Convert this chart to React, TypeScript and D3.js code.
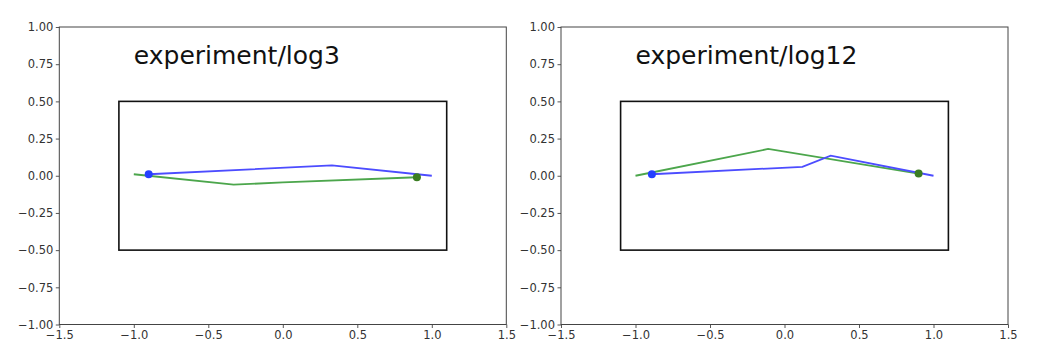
import React, { useEffect, useRef } from "react";
import * as d3 from "d3";

// panel titles
const titles = ["experiment/log3", "experiment/log12"];

// blue track (start marker at first point)
const blueX3 = [-0.9, 0.33, 1.0];
const blueY3 = [0.01, 0.07, 0.0];
const blueX12 = [-0.89, 0.12, 0.31, 1.0];
const blueY12 = [0.01, 0.06, 0.135, 0.0];

// green track (end marker at last point)
const greenX3 = [-1.0, -0.33, 0.0, 0.9];
const greenY3 = [0.01, -0.06, -0.045, -0.01];
const greenX12 = [-1.0, -0.11, 0.9];
const greenY12 = [0.0, 0.18, 0.015];

// the box drawn in each panel
const boxX = [-1.1, 1.1];
const boxY = [-0.5, 0.5];

const xTicks = [-1.5, -1.0, -0.5, 0.0, 0.5, 1.0, 1.5];
const yTicks = [-1.0, -0.75, -0.5, -0.25, 0.0, 0.25, 0.5, 0.75, 1.0];

const W = 1042;
const H = 362;

const panelData = [
  { title: titles[0], bx: blueX3, by: blueY3, gx: greenX3, gy: greenY3 },
  { title: titles[1], bx: blueX12, by: blueY12, gx: greenX12, gy: greenY12 },
];
const panelLeft = [59.3, 561];
const panelWidth = 447;
const top = 27;
const bottom = 324.5;

const fmtMinus = (s: string) => s.replace("-", "\u2212");

export default function App() {
  const ref = useRef<SVGSVGElement>(null);

  useEffect(() => {
    const svg = d3.select(ref.current);
    svg.selectAll("*").remove();

    panelData.forEach((p, i) => {
      const x = d3.scaleLinear().domain([-1.5, 1.5]).range([panelLeft[i], panelLeft[i] + panelWidth]);
      const y = d3.scaleLinear().domain([-1, 1]).range([bottom, top]);
      const g = svg.append("g");

      // axes
      const xAxis = d3.axisBottom(x).tickValues(xTicks).tickSizeOuter(0).tickSize(3.5).tickPadding(2.5)
        .tickFormat((d) => fmtMinus(d3.format(".1f")(d as number)));
      const yAxis = d3.axisLeft(y).tickValues(yTicks).tickSizeOuter(0).tickSize(3.5).tickPadding(2.5)
        .tickFormat((d) => fmtMinus(d3.format(".2f")(d as number)));

      const gx = g.append("g").attr("transform", `translate(0,${bottom})`).call(xAxis);
      const gy = g.append("g").attr("transform", `translate(${panelLeft[i]},0)`).call(yAxis);
      [gx, gy].forEach((a) => {
        a.select(".domain").remove();
        a.selectAll("line").attr("stroke", "#444").attr("stroke-width", 0.9);
        a.selectAll("text").attr("fill", "#333").style("font-size", "11.5px")
          .style("font-family", "DejaVu Sans");
      });

      // frame
      g.append("rect")
        .attr("x", x(-1.5)).attr("y", y(1))
        .attr("width", x(1.5) - x(-1.5)).attr("height", y(-1) - y(1))
        .attr("fill", "none").attr("stroke", "#444").attr("stroke-width", 1);

      // box
      g.append("rect")
        .attr("x", x(boxX[0])).attr("y", y(boxY[1]))
        .attr("width", x(boxX[1]) - x(boxX[0])).attr("height", y(boxY[0]) - y(boxY[1]))
        .attr("fill", "none").attr("stroke", "#111").attr("stroke-width", 1.6);

      const greenPts: [number, number][] = p.gx.map((v, k) => [x(v), y(p.gy[k])]);
      const bluePts: [number, number][] = p.bx.map((v, k) => [x(v), y(p.by[k])]);
      const path = d3.line();

      g.append("path").attr("d", path(greenPts))
        .attr("fill", "none").attr("stroke", "#4ca64c").attr("stroke-width", 1.8);
      g.append("path").attr("d", path(bluePts))
        .attr("fill", "none").attr("stroke", "#4c4cff").attr("stroke-width", 1.8);

      // markers: blue at start, green at end
      g.append("circle").attr("cx", x(p.bx[0])).attr("cy", y(p.by[0])).attr("r", 4)
        .attr("fill", "#2440ff");
      g.append("circle").attr("cx", x(p.gx[p.gx.length - 1])).attr("cy", y(p.gy[p.gy.length - 1])).attr("r", 4)
        .attr("fill", "#3a7d22");

      g.append("text")
        .attr("x", x(-1.0)).attr("y", y(0.75))
        .style("font-family", "DejaVu Sans").style("font-size", "25px")
        .attr("fill", "#111")
        .text(p.title);
    });
  }, []);

  return (
    <div style={{ position: "absolute", left: 0, top: 0 }}>
      <svg ref={ref} width={W} height={H} style={{ display: "block", background: "#fff" }} />
    </div>
  );
}
